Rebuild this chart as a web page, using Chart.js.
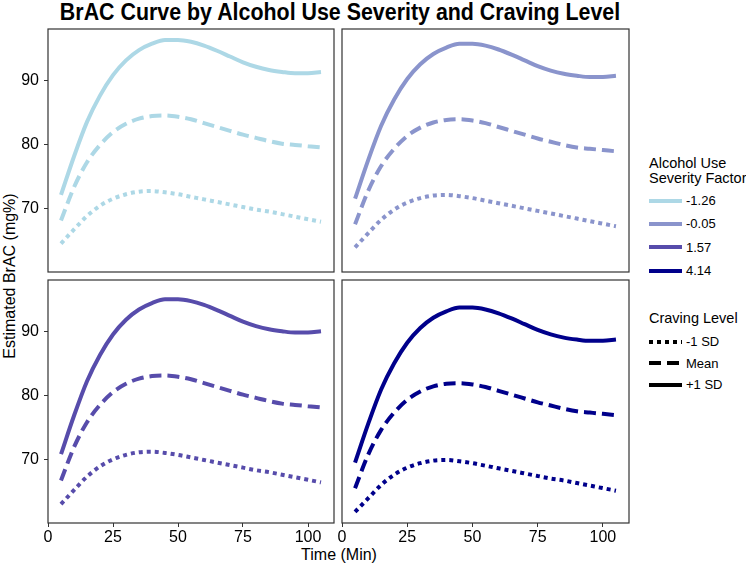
<!DOCTYPE html>
<html>
<head>
<meta charset="utf-8">
<script src="https://cdn.jsdelivr.net/npm/chart.js@4.4.1/dist/chart.umd.min.js"></script>
<style>
  html, body { margin: 0; padding: 0; background: #fff; }
  body {
    width: 746px; height: 566px; position: relative; overflow: hidden;
    font-family: 'Liberation Sans', Arial, sans-serif; color: #000;
  }
  canvas.panel { position: absolute; left: 0; top: 0; }
  .title {
    position: absolute; left: 340px; top: 1px; transform: translateX(-50%) scaleX(0.93);
    font-weight: bold; font-size: 23px; line-height: 23px; white-space: nowrap;
  }
  .ytitle, .xtitle {
    position: absolute; font-size: 16px; line-height: 16px; white-space: nowrap;
  }
  .ytitle { left: 10px; top: 276px; transform: translate(-50%, -50%) rotate(-90deg); }
  .xtitle { left: 339px; top: 555px; transform: translate(-50%, -50%); }
  .legend { position: absolute; left: 649px; white-space: nowrap; }
  .legend .ltitle { font-size: 14.5px; line-height: 15px; }
  .legend .row { display: flex; align-items: center; }
  .legend .row span { font-size: 13px; margin-left: 4px; }
  .legend svg { display: block; }
  #sevLegend .ltitle { margin-bottom: 3px; }
  #sevLegend .row { height: 23.3px; }
  #cravLegend .ltitle { margin-bottom: 5px; }
  #cravLegend .row { height: 21.5px; }
</style>
</head>
<body>
<div class="title">BrAC Curve by Alcohol Use Severity and Craving Level</div>
<div class="ytitle">Estimated BrAC (mg%)</div>
<div class="xtitle">Time (Min)</div>
<div class="legend" id="sevLegend" style="top:156px"></div>
<div class="legend" id="cravLegend" style="top:311px"></div>

<canvas class="panel" id="p0" width="746" height="566"></canvas>
<canvas class="panel" id="p1" width="746" height="566"></canvas>
<canvas class="panel" id="p2" width="746" height="566"></canvas>
<canvas class="panel" id="p3" width="746" height="566"></canvas>

<script>
// time points (minutes)
const timeMin = [5, 10, 15, 20, 25, 30, 35, 40, 45, 50, 55, 60, 65, 70, 75, 80, 85, 90, 95, 100, 105];

const severityLabels = ['-1.26', '-0.05', '1.57', '4.14'];
const cravingLabels = ['-1 SD', 'Mean', '+1 SD'];

// severity -1.26
const sevA_low  = [64.6, 66.8, 68.9, 70.5, 71.6, 72.3, 72.7, 72.8, 72.6, 72.3, 71.9, 71.5, 71.1, 70.7, 70.3, 69.9, 69.6, 69.2, 68.8, 68.4, 68.0];
const sevA_mean = [68.2, 73.4, 77.3, 80.0, 82.0, 83.3, 84.1, 84.5, 84.6, 84.4, 84.0, 83.4, 82.8, 82.2, 81.6, 81.1, 80.6, 80.2, 80.0, 79.8, 79.6];
const sevA_high = [72.2, 78.2, 83.6, 87.7, 90.9, 93.2, 94.8, 95.8, 96.4, 96.4, 96.1, 95.5, 94.7, 93.8, 92.9, 92.2, 91.7, 91.4, 91.2, 91.2, 91.4];

// severity -0.05
const sevB_low  = [64.0, 66.2, 68.3, 69.9, 71.0, 71.7, 72.1, 72.2, 72.0, 71.7, 71.3, 70.9, 70.5, 70.1, 69.7, 69.3, 68.9, 68.5, 68.1, 67.7, 67.3];
const sevB_mean = [67.6, 72.8, 76.7, 79.4, 81.4, 82.7, 83.5, 83.9, 84.0, 83.8, 83.4, 82.8, 82.2, 81.6, 81.0, 80.5, 80.0, 79.6, 79.4, 79.2, 79.0];
const sevB_high = [71.6, 77.6, 83.0, 87.1, 90.3, 92.6, 94.2, 95.2, 95.8, 95.8, 95.5, 94.9, 94.1, 93.2, 92.3, 91.6, 91.1, 90.8, 90.6, 90.6, 90.8];

// severity 1.57
const sevC_low  = [63.1, 65.3, 67.4, 69.0, 70.1, 70.8, 71.2, 71.3, 71.1, 70.8, 70.4, 70.0, 69.6, 69.2, 68.8, 68.4, 68.1, 67.7, 67.3, 66.9, 66.5];
const sevC_mean = [66.8, 72.0, 75.9, 78.6, 80.6, 81.9, 82.7, 83.1, 83.2, 83.0, 82.6, 82.0, 81.4, 80.8, 80.2, 79.7, 79.2, 78.8, 78.6, 78.4, 78.2];
const sevC_high = [70.9, 76.9, 82.3, 86.4, 89.6, 91.9, 93.5, 94.5, 95.1, 95.1, 94.8, 94.2, 93.4, 92.5, 91.6, 90.9, 90.4, 90.1, 89.9, 89.9, 90.1];

// severity 4.14
const sevD_low  = [61.9, 64.0, 66.1, 67.7, 68.8, 69.5, 69.9, 70.0, 69.8, 69.5, 69.1, 68.7, 68.3, 67.9, 67.5, 67.1, 66.8, 66.4, 66.0, 65.6, 65.2];
const sevD_mean = [65.6, 70.8, 74.7, 77.4, 79.4, 80.7, 81.5, 81.9, 82.0, 81.8, 81.4, 80.8, 80.2, 79.6, 79.0, 78.5, 78.0, 77.6, 77.4, 77.2, 77.0];
const sevD_high = [69.6, 75.6, 81.0, 85.1, 88.3, 90.6, 92.2, 93.2, 93.8, 93.8, 93.5, 92.9, 92.1, 91.2, 90.3, 89.6, 89.1, 88.8, 88.6, 88.6, 88.8];

const xTicks = [0, 25, 50, 75, 100];
const yTicks = [70, 80, 90];

const sevColors = ['#ADD8E6', '#8A94CC', '#574CAB', '#00008B'];
const cravDash = [[4, 4], [12, 6], []];

Chart.defaults.font.family = "'Liberation Sans', Arial, sans-serif";
Chart.defaults.color = '#000';

const panelBox = {
    id: 'panelBox',
    afterDraw(chart) {
        const { ctx, chartArea: a } = chart;
        ctx.save();
        ctx.strokeStyle = '#333333';
        ctx.lineWidth = 1.2;
        ctx.strokeRect(a.left, a.top, a.right - a.left, a.bottom - a.top);
        ctx.restore();
    }
};

// panel placement: [left, top, right, bottom] of the plot area in px
const panels = [
    { id: 'p0', sev: 0, series: [sevA_low, sevA_mean, sevA_high], box: [48, 29, 334, 272], showX: false, showY: true },
    { id: 'p1', sev: 1, series: [sevB_low, sevB_mean, sevB_high], box: [342, 29, 629, 272], showX: false, showY: false },
    { id: 'p2', sev: 2, series: [sevC_low, sevC_mean, sevC_high], box: [48, 280, 334, 523], showX: true, showY: true },
    { id: 'p3', sev: 3, series: [sevD_low, sevD_mean, sevD_high], box: [342, 280, 629, 523], showX: true, showY: false }
];

const Y_AXIS_W = 48;
const X_AXIS_H = 22;

panels.forEach(p => {
    const [l, t, r, b] = p.box;
    const datasets = p.series.map((vals, k) => ({
        label: severityLabels[p.sev] + ' / ' + cravingLabels[k],
        data: timeMin.map((tm, i) => ({ x: tm, y: vals[i] })),
        borderColor: sevColors[p.sev],
        borderWidth: 4,
        borderDash: cravDash[k],
        borderCapStyle: 'butt',
        pointRadius: 0,
        cubicInterpolationMode: 'monotone',
        fill: false
    }));

    new Chart(document.getElementById(p.id), {
        type: 'line',
        data: { datasets },
        options: {
            responsive: false,
            animation: false,
            devicePixelRatio: 1,
            layout: {
                autoPadding: false,
                padding: {
                    left: p.showY ? l - Y_AXIS_W : l,
                    top: t,
                    right: 746 - r,
                    bottom: p.showX ? 566 - b - X_AXIS_H : 566 - b
                }
            },
            plugins: { legend: { display: false }, tooltip: { enabled: false } },
            scales: {
                x: {
                    type: 'linear',
                    display: p.showX,
                    min: 0,
                    max: 110,
                    afterFit(scale) { scale.height = p.showX ? X_AXIS_H : 0; },
                    afterBuildTicks(scale) { scale.ticks = xTicks.map(v => ({ value: v })); },
                    grid: { drawOnChartArea: false, drawTicks: true, tickLength: 4, color: '#333333' },
                    border: { display: false },
                    ticks: { font: { size: 16 }, padding: 1, maxRotation: 0, autoSkip: false }
                },
                y: {
                    type: 'linear',
                    display: p.showY,
                    min: 60.16,
                    max: 98.1,
                    afterFit(scale) { scale.width = p.showY ? Y_AXIS_W : 0; },
                    afterBuildTicks(scale) { scale.ticks = yTicks.map(v => ({ value: v })); },
                    grid: { drawOnChartArea: false, drawTicks: true, tickLength: 4, color: '#333333' },
                    border: { display: false },
                    ticks: { font: { size: 16 }, padding: 5, autoSkip: false }
                }
            }
        },
        plugins: [panelBox]
    });
});

// legends
function keyLine(color, dash) {
    return `<svg width="33" height="8"><line x1="0" y1="4" x2="33" y2="4" stroke="${color}" stroke-width="4"
        ${dash.length ? `stroke-dasharray="${dash.join(',')}"` : ''}/></svg>`;
}

document.getElementById('sevLegend').innerHTML =
    '<div class="ltitle">Alcohol Use<br>Severity Factor</div>' +
    severityLabels.map((s, i) => `<div class="row">${keyLine(sevColors[i], [])}<span>${s}</span></div>`).join('');

document.getElementById('cravLegend').innerHTML =
    '<div class="ltitle">Craving Level</div>' +
    cravingLabels.map((c, k) => `<div class="row">${keyLine('#000', cravDash[k])}<span>${c}</span></div>`).join('');
</script>
</body>
</html>
